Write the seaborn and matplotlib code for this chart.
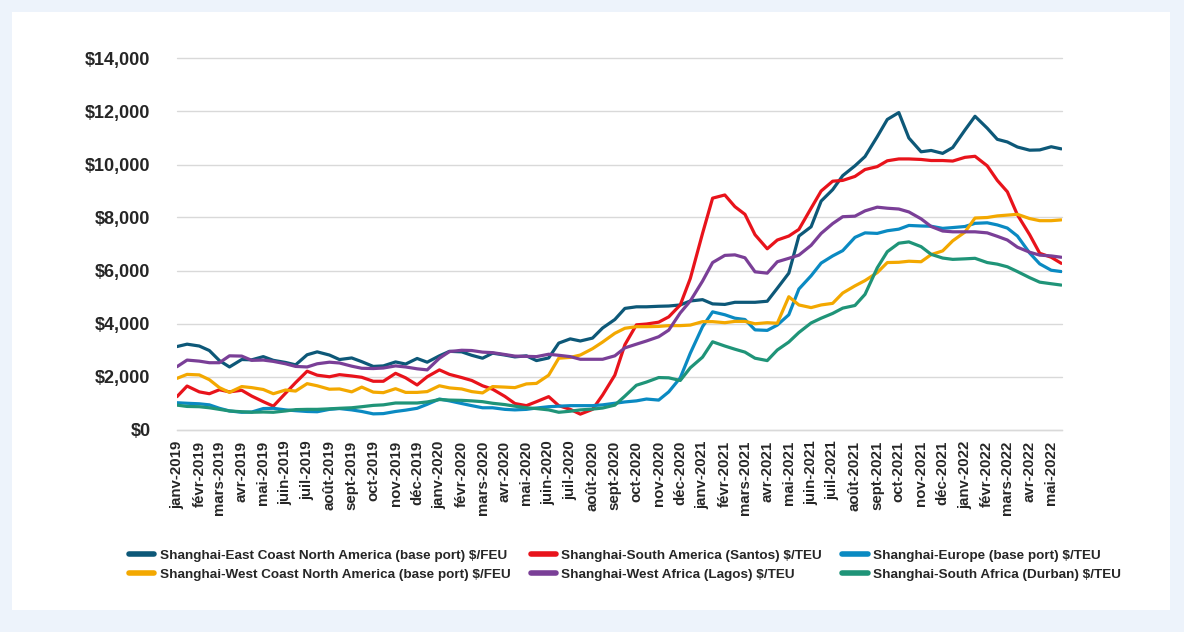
import matplotlib
matplotlib.use("Agg")
import matplotlib.pyplot as plt
from matplotlib.lines import Line2D
from matplotlib.patches import Rectangle
from matplotlib.ticker import FuncFormatter
import pandas as pd
import seaborn as sns

# readings taken on the 1st and 15th of each month, janv-2019 .. mai-2022
dates = pd.date_range("2019-01-01", "2022-05-15", freq="SMS")

east_coast_na = [
    3130, 3220, 3150, 2980, 2600, 2360, 2640, 2630, 2750, 2610, 2530, 2440,
    2820, 2930, 2810, 2640, 2700, 2560, 2380, 2400, 2550, 2470, 2680, 2540,
    2780, 2950, 2930, 2800, 2690, 2880, 2810, 2740, 2780, 2600, 2700, 3260,
    3420, 3340, 3450, 3830, 4150, 4570, 4630, 4630, 4650, 4660, 4700, 4850,
    4900, 4740, 4720, 4800, 4800, 4800, 4840, 5330, 5900, 7300, 7650, 8620,
    9050, 9580, 9950, 10300, 11050, 11700, 11960, 11000, 10480, 10530, 10420, 10640,
    11300, 11820, 11370, 10950, 10850, 10660, 10540, 10550, 10670, 10590,
]
south_america = [
    1240, 1640, 1420, 1350, 1500, 1420, 1480, 1260, 1050, 880, 1370, 1770,
    2200, 2050, 1990, 2070, 2020, 1970, 1820, 1820, 2120, 1950, 1680, 1990,
    2250, 2080, 1960, 1850, 1650, 1520, 1250, 980, 900, 1050, 1240, 900,
    760, 580, 760, 1300, 2050, 3200, 3950, 3980, 4050, 4250, 4700, 5700,
    7400, 8730, 8850, 8410, 8120, 7350, 6820, 7150, 7300, 7550, 8350, 9000,
    9370, 9400, 9550, 9810, 9920, 10140, 10210, 10210, 10190, 10150, 10150, 10130,
    10270, 10310, 9950, 9400, 8970, 8100, 7350, 6650, 6500, 6270,
]
europe = [
    1010, 990, 970, 930, 800, 700, 650, 660, 790, 800, 740, 710,
    680, 670, 760, 790, 740, 680, 590, 600, 680, 730, 800, 950,
    1150, 1080, 980, 900, 820, 820, 760, 740, 760, 810, 860, 880,
    900, 900, 900, 930, 990, 1040, 1080, 1150, 1110, 1420, 1950, 2880,
    3880, 4440, 4330, 4200, 4150, 3760, 3740, 3940, 4330, 5300, 5800, 6280,
    6550, 6750, 7250, 7420, 7400, 7500, 7560, 7700, 7680, 7670, 7590, 7620,
    7660, 7780, 7800, 7720, 7600, 7300, 6660, 6250, 6010, 5960,
]
west_coast_na = [
    1930, 2080, 2060, 1880, 1580, 1400, 1620, 1580, 1510, 1350, 1490, 1450,
    1730, 1650, 1520, 1530, 1420, 1600, 1410, 1390, 1540, 1400, 1400, 1430,
    1650, 1570, 1530, 1430, 1380, 1620, 1600, 1580, 1720, 1740, 2050, 2690,
    2720, 2810, 3050, 3300, 3630, 3820, 3880, 3880, 3890, 3920, 3920, 3940,
    4070, 4070, 4030, 4080, 4080, 3990, 4030, 4010, 5010, 4700, 4600, 4700,
    4760, 5150, 5420, 5620, 5920, 6300, 6310, 6350, 6330, 6600, 6740, 7120,
    7450, 7980, 8000, 8060, 8090, 8120, 7960, 7880, 7880, 7910,
]
west_africa = [
    2370, 2620, 2580, 2520, 2520, 2780, 2770, 2610, 2620, 2570, 2480, 2380,
    2360, 2480, 2540, 2510, 2390, 2310, 2300, 2320, 2400, 2360, 2290, 2250,
    2690, 2940, 2990, 2980, 2920, 2900, 2830, 2770, 2760, 2750, 2840, 2800,
    2750, 2650, 2650, 2650, 2780, 3080, 3220, 3340, 3500, 3750, 4400, 4850,
    5600, 6300, 6570, 6590, 6480, 5950, 5900, 6330, 6460, 6580, 6950, 7400,
    7770, 8030, 8050, 8250, 8390, 8350, 8320, 8210, 7950, 7660, 7490, 7460,
    7460, 7460, 7420, 7290, 7150, 6880, 6690, 6580, 6550, 6500,
]
south_africa = [
    920, 870, 860, 820, 760, 700, 670, 650, 660, 650, 700, 750,
    760, 760, 780, 800, 820, 860, 910, 930, 1000, 1000, 1000, 1040,
    1130, 1110, 1100, 1080, 1050, 990, 940, 880, 820, 790, 740, 650,
    690, 740, 770, 810, 920, 1260, 1670, 1790, 1960, 1950, 1850, 2330,
    2730, 3310, 3150, 3030, 2920, 2690, 2600, 3000, 3300, 3660, 4020, 4200,
    4380, 4580, 4680, 5100, 6100, 6710, 7030, 7080, 6900, 6610, 6470, 6420,
    6440, 6460, 6300, 6240, 6140, 5960, 5730, 5560, 5500, 5450,
]

series_names = [
    "Shanghai-East Coast North America (base port) $/FEU",
    "Shanghai-South America (Santos) $/TEU",
    "Shanghai-Europe (base port) $/TEU",
    "Shanghai-West Coast North America (base port) $/FEU",
    "Shanghai-West Africa (Lagos) $/TEU",
    "Shanghai-South Africa (Durban) $/TEU",
]
series_values = [east_coast_na, south_america, europe,
                 west_coast_na, west_africa, south_africa]
colors = ["#0d5878", "#e8131b", "#0a8ac2", "#f3a800", "#7a3f97", "#1f9478"]
month_fr = ["janv", "févr", "mars", "avr", "mai", "juin",
            "juil", "août", "sept", "oct", "nov", "déc"]

df = pd.concat(
    [pd.DataFrame({"date": dates, "rate": vals, "route": name})
     for name, vals in zip(series_names, series_values)],
    ignore_index=True,
)

sns.set_style("white")
plt.rcParams["font.family"] = ["Liberation Sans", "DejaVu Sans"]
plt.rcParams["font.weight"] = "bold"

fig = plt.figure(figsize=(11.84, 6.32), dpi=100, facecolor="#edf3fb")
fig.patches.append(Rectangle((12 / 1184, 22 / 632), 1158 / 1184, 598 / 632,
                             transform=fig.transFigure, facecolor="white",
                             edgecolor="none", zorder=-5))
ax = fig.add_axes([177 / 1184, 1 - 429.5 / 632, (1062 - 177) / 1184, 371 / 632])
ax.set_facecolor("none")
ax.set_zorder(2)

sns.lineplot(data=df, x="date", y="rate", hue="route", hue_order=series_names,
             palette=colors, linewidth=2.3, legend=False, ax=ax)

# axes styling
ax.set_ylim(0, 14000)
ax.set_yticks(range(0, 14001, 2000))
ax.yaxis.set_major_formatter(FuncFormatter(lambda v, _: f"${v:,.0f}"))
ax.grid(axis="y", color="#d9d9d9", linewidth=1)
for gl in ax.get_ygridlines():
    gl.set_clip_on(False)
ax.set_axisbelow(True)
for side in ["left", "right", "top"]:
    ax.spines[side].set_visible(False)
ax.spines["bottom"].set_color("#d9d9d9")
ax.spines["bottom"].set_linewidth(1)

ax.set_xlim(pd.Timestamp("2019-01-01"), pd.Timestamp("2022-05-16"))
month_ticks = pd.date_range("2019-01-01", "2022-05-01", freq="MS")
ax.set_xticks(month_ticks)
ax.set_xticklabels([f"{month_fr[d.month - 1]}-{d.year}" for d in month_ticks],
                   rotation=90, fontsize=10.8, fontweight="bold")
ax.tick_params(axis="x", length=5, color="#d9d9d9", pad=3)
ax.tick_params(axis="y", length=0, labelsize=13, pad=19)
for lbl in ax.get_yticklabels():
    lbl.set_fontweight("bold")
ax.set_xlabel("")
ax.set_ylabel("")

# legend: two rows, three columns
order = [0, 3, 1, 4, 2, 5]
handles = [Line2D([0], [0], color=colors[i], linewidth=4, solid_capstyle="round")
           for i in order]
fig.legend(handles, [series_names[i] for i in order], ncol=3,
           loc="center", bbox_to_anchor=(625 / 1184, 1 - 565 / 632),
           frameon=False, prop={"weight": "bold", "size": 9.7},
           handlelength=1.9, handletextpad=0.4, columnspacing=1.5,
           labelspacing=0.5)

fig.savefig("out.png", dpi=100, facecolor=fig.get_facecolor())
